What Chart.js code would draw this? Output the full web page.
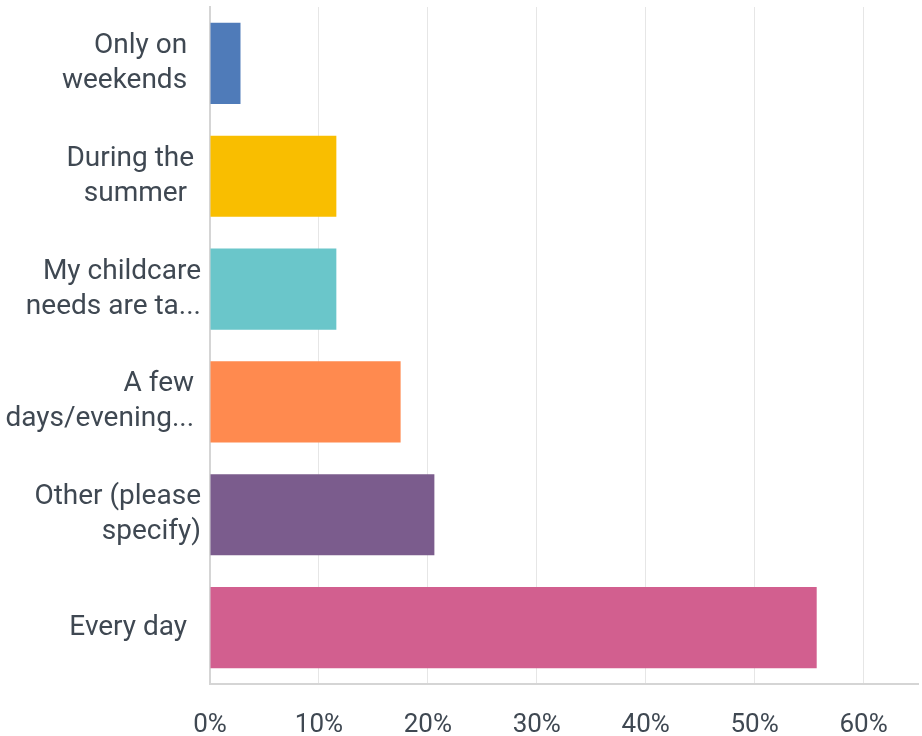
<!DOCTYPE html>
<html>
<head>
<meta charset="utf-8">
<script src="https://cdn.jsdelivr.net/npm/chart.js@4/dist/chart.umd.min.js"></script>
<style>
  html, body { margin: 0; padding: 0; background: #ffffff; }
  #wrap { width: 922px; height: 736px; position: relative; }
</style>
</head>
<body>
<div id="wrap"><canvas id="c" width="922" height="736"></canvas></div>
<script>
const categories = [
  ["Only on  ", "weekends  "],
  ["During the ", "summer  "],
  ["My childcare", "needs are ta..."],
  ["A few ", "days/evening... "],
  ["Other (please", "specify)"],
  ["Every day  "]
];
const values = [2.8, 11.6, 11.6, 17.5, 20.6, 55.7];
const barColors = ["#4f7bb9", "#f9be00", "#6ac6ca", "#ff8a4f", "#7b5c8d", "#d25f8f"];
const tickValues = [0, 10, 20, 30, 40, 50, 60];

const textColor = "#3f4852";
const fontFamily = "Roboto, 'Noto Sans', sans-serif";

new Chart(document.getElementById('c'), {
  type: 'bar',
  data: {
    labels: categories,
    datasets: [{
      data: values,
      backgroundColor: barColors,
      borderColor: barColors,
      borderWidth: 0,
      barPercentage: 0.72,
      categoryPercentage: 1.0
    }]
  },
  options: {
    indexAxis: 'y',
    responsive: false,
    animation: false,
    devicePixelRatio: 1,
    layout: { padding: { top: 7, right: 4, left: 0, bottom: 0 } },
    plugins: { legend: { display: false }, tooltip: { enabled: false } },
    scales: {
      x: {
        min: 0,
        max: 65,
        afterBuildTicks: (scale) => { scale.ticks = tickValues.map(v => ({ value: v })); },
        afterFit: (scale) => { scale.height = 52; scale.paddingLeft = 0; scale.paddingRight = 0; },
        grid: { color: "#e6e6e6", lineWidth: 1, drawTicks: false },
        border: { color: "#d5d5d5", width: 2 },
        ticks: {
          color: textColor,
          font: { family: fontFamily, size: 26 },
          padding: 26,
          callback: (v) => v + "%"
        }
      },
      y: {
        afterFit: (scale) => { scale.width = 210; scale.paddingTop = 0; scale.paddingBottom = 0; },
        grid: { display: false, drawTicks: false },
        border: { color: "#d5d5d5", width: 2 },
        ticks: {
          color: textColor,
          font: { family: fontFamily, size: 28, lineHeight: 1.25 },
          padding: 9
        }
      }
    }
  }
});
</script>
</body>
</html>
